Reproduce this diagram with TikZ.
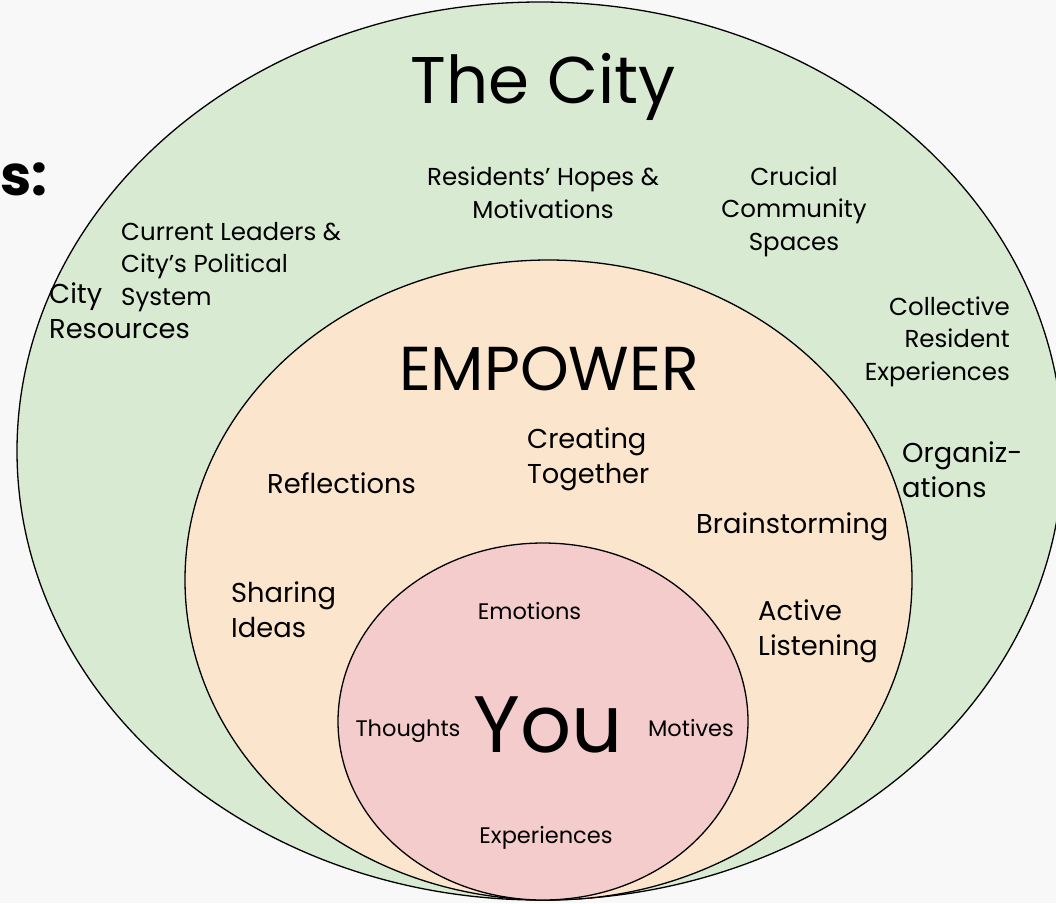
\documentclass[tikz,border=0pt]{standalone}
\usepackage{fontspec}
\setmainfont{Poppins}
\usetikzlibrary{positioning}

\definecolor{pagebg}{HTML}{F8F8F8}
\definecolor{cityfill}{HTML}{D9EAD3}
\definecolor{empowerfill}{HTML}{FCE5CD}
\definecolor{youfill}{HTML}{F4CCCC}

\begin{document}
\begin{tikzpicture}[x=1pt,y=-1pt,
    every node/.style={inner sep=0pt,text=black},
    ring/.style={draw=black,line width=1.3pt},
    citytext/.style={font=\fontsize{24.5}{32.5}\selectfont},
    midtext/.style={font=\fontsize{27.3}{34.5}\selectfont},
    youtext/.style={font=\fontsize{22.5}{26}\selectfont},
    bigtitle/.style={font=\fontsize{66}{70}\selectfont}]
    \useasboundingbox[fill=pagebg] (0,0) rectangle (1056,903);
    \clip (0,0) rectangle (1056,903);
    % the three rings
    \draw[ring,fill=cityfill] (540,451) ellipse [x radius=523pt,y radius=449pt];
    \draw[ring,fill=empowerfill] (548.5,580) ellipse [x radius=363.5pt,y radius=320pt];
    \draw[ring,fill=youfill] (543,721.5) ellipse [x radius=205pt,y radius=178.5pt];
    % cut off heading on the left
    \node[anchor=base east,font=\fontsize{56}{60}\selectfont\bfseries] (goals) at (48,195) {ls:};
    % the city (base = last line)
    \node[bigtitle,anchor=base] (city) at (543,103) {The City};
    \node[citytext,anchor=base,align=center] (hopes) at (543,218) {Residents’ Hopes \&\\Motivations};
    \node[citytext,anchor=base,align=center] (spaces) at (794,250) {Crucial\\Community\\Spaces};
    \node[citytext,anchor=base west,align=left] (leaders) at (121,305) {Current Leaders \&\\City’s Political\\System};
    \node[citytext,anchor=base east,align=right] (collective) at (1010,380) {Collective\\Resident\\Experiences};
    \node[midtext,anchor=base west,align=left] (resources) at (49,338) {City\\Resources};
    \node[midtext,anchor=base west,align=left] (orgs) at (902,497) {Organiz-\\ations};
    % empower
    \node[bigtitle,font=\fontsize{62}{66}\selectfont,anchor=base] (empower) at (549,390) {EMPOWER};
    \node[midtext,anchor=base west] (reflect) at (267,493) {Reflections};
    \node[midtext,anchor=base west,align=left] (create) at (527,483) {Creating\\Together};
    \node[midtext,anchor=base west] (brain) at (696,533) {Brainstorming};
    \node[midtext,anchor=base west,align=left] (sharing) at (231,637) {Sharing\\Ideas};
    \node[midtext,anchor=base west,align=left] (listen) at (758,655) {Active\\Listening};
    % you
    \node[bigtitle,font=\fontsize{80}{84}\selectfont,anchor=base] (you) at (548,752) {You};
    \node[youtext,anchor=base] (emotions) at (529.5,619) {Emotions};
    \node[youtext,anchor=base] (thoughts) at (408,736) {Thoughts};
    \node[youtext,anchor=base] (motives) at (691,736) {Motives};
    \node[youtext,anchor=base] (experiences) at (546,843) {Experiences};
\end{tikzpicture}
\end{document}
